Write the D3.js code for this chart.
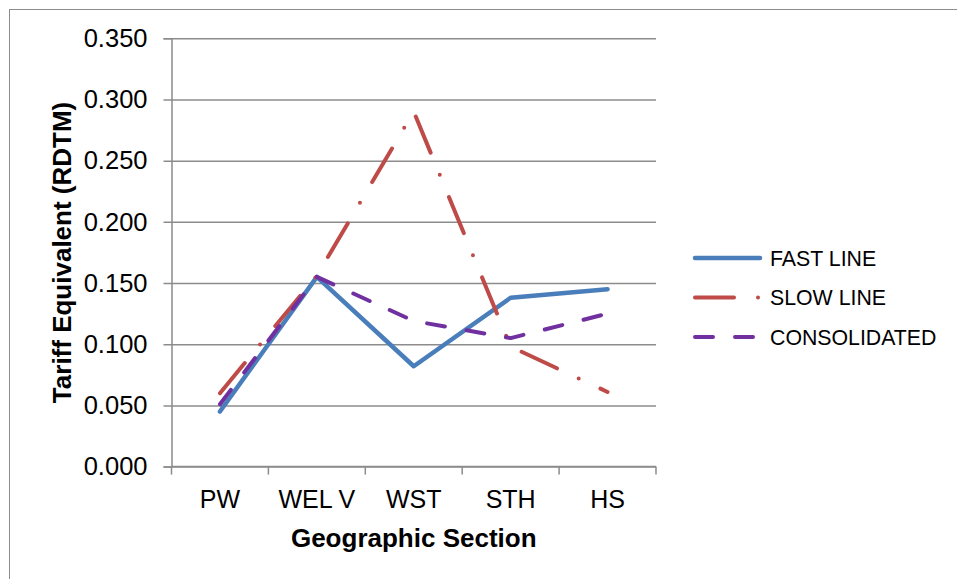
<!DOCTYPE html>
<html>
<head>
<meta charset="utf-8">
<script src="https://cdn.jsdelivr.net/npm/d3@7"></script>
<style>
  body { margin: 0; background: #fff; }
  text { font-family: "Liberation Sans", Arial, sans-serif; fill: #000; }
</style>
</head>
<body>
<svg id="chart" width="957" height="579"></svg>
<script>
// Chart data
const sections = ["PW", "WEL V", "WST", "STH", "HS"];
const fastLine = [0.045, 0.155, 0.082, 0.138, 0.145];
const slowLine = [0.060, 0.156, 0.290, 0.098, 0.061];
const consolidated = [0.051, 0.155, 0.119, 0.105, 0.125];
const yTicks = [0, 0.05, 0.10, 0.15, 0.20, 0.25, 0.30, 0.35];

const series = [
  { name: "FAST LINE", values: fastLine, color: "#4A7EBB", dash: null },
  { name: "SLOW LINE", values: slowLine, color: "#BE4B48", dash: "39,24,0,24" },
  { name: "CONSOLIDATED", values: consolidated, color: "#7030A0", dash: "18,22" }
];

const svg = d3.select("#chart");
const gridColor = "#8C8C8C";

// outer chart border
svg.append("rect")
  .attr("x", 9.5).attr("y", 9.5)
  .attr("width", 960).attr("height", 600)
  .attr("fill", "none")
  .attr("stroke", "#8C8C8C")
  .attr("stroke-width", 1);

const margin = { left: 171.5, right: 656, top: 38.3, bottom: 466.6 };

const x = d3.scaleBand()
  .domain(sections)
  .range([margin.left, margin.right])
  .paddingInner(0).paddingOuter(0);

const y = d3.scaleLinear()
  .domain([0, 0.35])
  .range([margin.bottom, margin.top]);

// y axis with gridlines
const yAxis = svg.append("g")
  .attr("transform", `translate(${margin.left},0)`)
  .call(d3.axisLeft(y).tickValues(yTicks).tickFormat(d3.format(".3f")).tickSize(8).tickPadding(16));
yAxis.select(".domain").attr("stroke", gridColor).attr("stroke-width", 1.5);
yAxis.selectAll(".tick line")
  .attr("x1", margin.right - margin.left)
  .attr("x2", -8)
  .attr("stroke", gridColor)
  .attr("stroke-width", 1.5);
yAxis.selectAll(".tick text")
  .attr("font-size", "25.5px")
  .attr("font-family", "Liberation Sans, Arial, sans-serif")
  .attr("fill", "#000");

// x axis: labels at band centres, ticks at band edges
const xAxis = svg.append("g")
  .attr("transform", `translate(0,${margin.bottom})`);
xAxis.append("line")
  .attr("x1", margin.left).attr("x2", margin.right)
  .attr("stroke", gridColor).attr("stroke-width", 1.5);
const edges = sections.map(d => x(d)).concat([margin.right]);
xAxis.selectAll(".edge")
  .data(edges)
  .enter().append("line")
  .attr("class", "edge")
  .attr("x1", d => d).attr("x2", d => d)
  .attr("y1", 0).attr("y2", 8)
  .attr("stroke", gridColor).attr("stroke-width", 1.5);
xAxis.selectAll(".lbl")
  .data(sections)
  .enter().append("text")
  .attr("class", "lbl")
  .attr("x", d => x(d) + x.bandwidth() / 2)
  .attr("y", 41)
  .attr("text-anchor", "middle")
  .attr("font-size", "25px")
  .text(d => d);

// axis titles
svg.append("text")
  .attr("x", (margin.left + margin.right) / 2)
  .attr("y", 547)
  .attr("text-anchor", "middle")
  .attr("font-size", "26px")
  .attr("font-weight", "bold")
  .text("Geographic Section");

svg.append("text")
  .attr("transform", `translate(71,${(margin.top + margin.bottom) / 2}) rotate(-90)`)
  .attr("text-anchor", "middle")
  .attr("font-size", "26px")
  .attr("font-weight", "bold")
  .text("Tariff Equivalent (RDTM)");

// lines
const line = d3.line()
  .x((d, i) => x(sections[i]) + x.bandwidth() / 2)
  .y(d => y(d));

series.forEach(s => {
  svg.append("path")
    .datum(s.values)
    .attr("fill", "none")
    .attr("stroke", s.color)
    .attr("stroke-width", s.dash ? 4 : 4.5)
    .attr("stroke-linecap", "round")
    .attr("stroke-linejoin", "round")
    .attr("stroke-dasharray", s.dash)
    .attr("d", line);
});

// legend
const legend = svg.selectAll(".legend")
  .data(series)
  .enter().append("g")
  .attr("class", "legend")
  .attr("transform", (d, i) => `translate(0,${[258, 297.5, 337][i]})`);

legend.append("line")
  .attr("x1", 695)
  .attr("x2", d => d.name === "FAST LINE" ? 760 : (d.name === "SLOW LINE" ? 759 : 753))
  .attr("stroke", d => d.color)
  .attr("stroke-width", d => d.dash ? 4 : 4.5)
  .attr("stroke-linecap", "round")
  .attr("stroke-dasharray", d => d.dash);

legend.append("text")
  .attr("x", 770)
  .attr("y", 7.5)
  .attr("font-size", "21.3px")
  .text(d => d.name);
</script>
</body>
</html>
